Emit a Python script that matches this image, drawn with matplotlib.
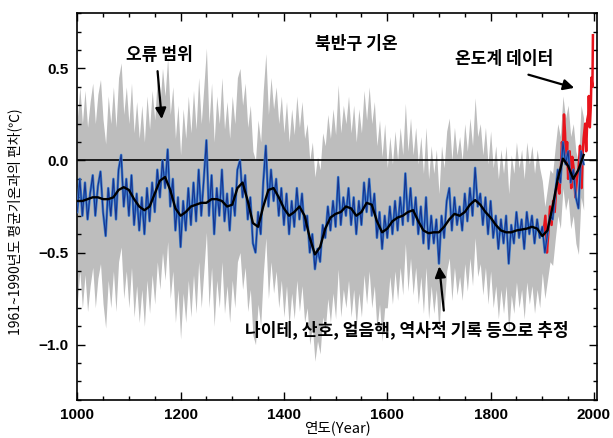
import numpy as np
import matplotlib
matplotlib.use("Agg")
import matplotlib.pyplot as plt
from matplotlib.ticker import MultipleLocator

plt.rcParams['font.family'] = ['Liberation Sans', 'Noto Sans CJK KR', 'DejaVu Sans']

# ---- data ----
recon_years = list(range(1000, 1981, 5))
recon_vals = [
    -0.28, -0.10, -0.30, -0.12, -0.32, -0.18, -0.08, -0.30, -0.14, -0.06,
    -0.28, -0.41, -0.15, -0.30, -0.10, -0.32, -0.05, 0.03, -0.25, -0.10,
    -0.30, -0.08, -0.35, -0.18, -0.38, -0.20, -0.40, -0.15, -0.33, -0.12,
    -0.28, -0.05, -0.20, 0.00, -0.15, 0.06, -0.25, -0.10, -0.38, -0.20,
    -0.47, -0.22, -0.38, -0.15, -0.35, -0.12, -0.33, -0.05, -0.30, -0.10,
    0.11, -0.30, -0.08, -0.40, -0.15, -0.30, -0.05, -0.33, -0.18, -0.38,
    -0.15, -0.30, -0.05, 0.00, -0.20, -0.08, -0.32, -0.20, -0.45, -0.50,
    -0.28, -0.40, -0.12, 0.08, -0.25, -0.05, -0.22, -0.10, -0.30, -0.15,
    -0.35, -0.18, -0.40, -0.22, -0.36, -0.15, -0.32, -0.18, -0.38, -0.30,
    -0.50, -0.40, -0.59, -0.48, -0.55, -0.35, -0.42, -0.25, -0.38, -0.22,
    -0.36, -0.09, -0.35, -0.20, -0.30, -0.15, -0.35, -0.20, -0.40, -0.22,
    -0.35, -0.12, -0.28, -0.10, -0.30, -0.18, -0.42, -0.28, -0.48, -0.30,
    -0.42, -0.25, -0.40, -0.22, -0.38, -0.20, -0.35, -0.07, -0.33, -0.15,
    -0.35, -0.20, -0.40, -0.25, -0.45, -0.20, -0.48, -0.30, -0.45, -0.32,
    -0.56, -0.30, -0.42, -0.22, -0.15, -0.38, -0.20, -0.35, -0.25, -0.38,
    -0.18, -0.33, -0.15, -0.30, -0.04, -0.25, -0.18, -0.35, -0.20, -0.40,
    -0.22, -0.42, -0.30, -0.48, -0.32, -0.45, -0.30, -0.56, -0.35, -0.45,
    -0.28, -0.42, -0.32, -0.48, -0.28, -0.40, -0.30, -0.45, -0.32, -0.42,
    -0.36, -0.50, -0.40, -0.30, -0.32, -0.18, -0.05, -0.12, 0.10, -0.02,
    0.05, -0.12, -0.05, -0.20, -0.26, 0.05, -0.02,
]

smooth_years = list(range(1000, 1981, 10))
smooth_vals = [
    -0.22, -0.22, -0.21, -0.20, -0.20, -0.21, -0.21, -0.20, -0.16, -0.145,
    -0.16, -0.21, -0.25, -0.27, -0.25, -0.18, -0.11, -0.09, -0.16, -0.26,
    -0.30, -0.28, -0.25, -0.24, -0.23, -0.23, -0.21, -0.21, -0.22, -0.25,
    -0.24, -0.15, -0.12, -0.22, -0.34, -0.36, -0.25, -0.16, -0.15, -0.20,
    -0.26, -0.30, -0.28, -0.25, -0.30, -0.42, -0.51, -0.47, -0.37, -0.31,
    -0.29, -0.28, -0.25, -0.26, -0.30, -0.28, -0.23, -0.24, -0.33, -0.39,
    -0.37, -0.33, -0.31, -0.30, -0.28, -0.27, -0.33, -0.38, -0.395, -0.39,
    -0.39, -0.36, -0.32, -0.29, -0.30, -0.28, -0.24, -0.215, -0.24, -0.28,
    -0.31, -0.35, -0.38, -0.39, -0.39, -0.38, -0.375, -0.37, -0.36, -0.37,
    -0.41, -0.38, -0.25, -0.10, 0.01, -0.03, -0.10, -0.05, 0.03,
]

# uncertainty half-width (2 sigma) by period: (start year, value)
err_periods = [(1000, 0.50), (1600, 0.38), (1900, 0.25)]

instr_years = [1902, 1906, 1909, 1912, 1915, 1918, 1921, 1924, 1927, 1930,
               1933, 1936, 1938, 1940, 1942, 1944, 1946, 1948, 1950, 1953,
               1956, 1958, 1961, 1964, 1967, 1970, 1973, 1976, 1978, 1980,
               1983, 1985, 1987, 1989, 1990, 1992, 1994, 1995, 1997, 1998]
instr_vals = [-0.40, -0.30, -0.50, -0.38, -0.25, -0.35, -0.22, -0.28, -0.15, -0.12,
              -0.18, -0.05, 0.10, 0.05, 0.25, 0.15, -0.02, 0.10, -0.10, 0.05,
              -0.15, 0.02, -0.05, -0.20, -0.10, -0.05, 0.08, -0.15, 0.02, 0.12,
              0.20, 0.05, 0.22, 0.25, 0.35, 0.18, 0.30, 0.45, 0.40, 0.68]

x_ticks = [1000, 1200, 1400, 1600, 1800, 2000]
y_ticks = [0.5, 0.0, -0.5, -1.0]

# ---- figure ----
fig = plt.figure(figsize=(6.13, 4.38), dpi=100)
ax = fig.add_axes([0.126, 0.087, 0.848, 0.883])

ry = np.array(recon_years)
rv = np.array(recon_vals)
err = np.zeros_like(rv)
for start, val in err_periods:
    err[ry >= start] = val

ax.fill_between(ry, rv - err, rv + err, color='#bdbdbd', lw=0, zorder=1)
ax.axhline(0.0, color='black', lw=1.2, zorder=2)
ax.plot(instr_years, instr_vals, color='#e8141c', lw=1.8, zorder=3)
ax.plot(ry, rv, color='#3a7ccc', lw=1.8, zorder=4)
ax.plot(ry, rv, color='#15338f', lw=0.8, zorder=4)
ax.plot(smooth_years, smooth_vals, color='black', lw=1.7, zorder=5)

ax.set_xlim(1000, 2006)
ax.set_ylim(-1.3, 0.8)
ax.set_xticks(x_ticks)
ax.set_yticks(y_ticks)
ax.set_yticklabels(['0.5', '0.0', '\u22120.5', '\u22121.0'])
ax.xaxis.set_minor_locator(MultipleLocator(50))
ax.yaxis.set_minor_locator(MultipleLocator(0.1))
ax.tick_params(which='both', direction='in', top=True, right=True, width=1.0)
ax.tick_params(which='major', length=6, labelsize=11, pad=6)
ax.tick_params(which='minor', length=3)
for lab in ax.get_xticklabels() + ax.get_yticklabels():
    lab.set_fontweight('bold')
for sp in ax.spines.values():
    sp.set_linewidth(1.2)

ax.set_xlabel('연도(Year)', fontsize=10.5, family=['Noto Sans CJK KR', 'DejaVu Sans'], labelpad=-1)
ax.set_ylabel('1961~1990년도 평균기온과의 편차(℃)', fontsize=10,
              family=['Noto Sans CJK KR', 'DejaVu Sans'])
ax.yaxis.set_label_coords(-0.105, 0.46)

kfont = dict(family=['Noto Sans CJK KR', 'DejaVu Sans'], fontweight='bold', fontsize=12.3)
arrow = dict(arrowstyle='-|>', color='black', lw=1.6, mutation_scale=16)
ax.text(1160, 0.57, '오류 범위', ha='center', va='center', **kfont)
ax.annotate('', xy=(1164, 0.21), xytext=(1155, 0.50), arrowprops=arrow)
ax.text(1540, 0.63, '북반구 기온', ha='center', va='center', **kfont)
ax.text(1826, 0.55, '온도계 데이터', ha='center', va='center', **kfont)
ax.annotate('', xy=(1967, 0.39), xytext=(1868, 0.47), arrowprops=arrow)
ax.text(1637, -0.92, '나이테, 산호, 얼음핵, 역사적 기록 등으로 추정', ha='center', va='center', **kfont)
ax.annotate('', xy=(1700, -0.56), xytext=(1710, -0.83), arrowprops=arrow)

fig.savefig('out.png', dpi=100)
